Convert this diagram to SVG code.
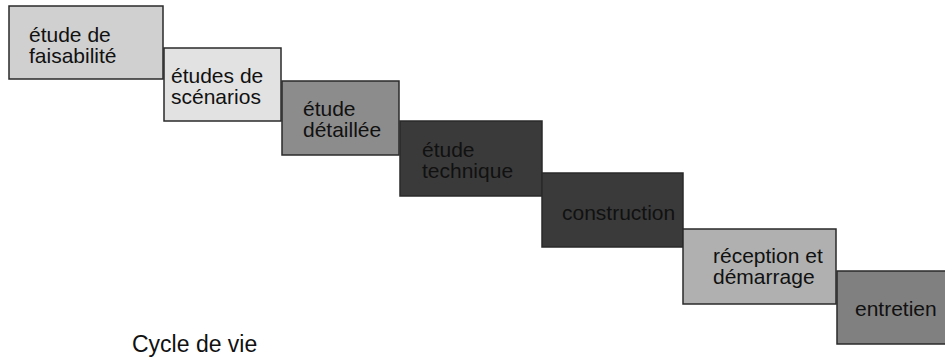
<svg xmlns="http://www.w3.org/2000/svg" width="945" height="362" viewBox="0 0 945 362">
<style>
rect{stroke:#2a2a2a;stroke-width:1.5}
text{font-family:"Liberation Sans",Arial,sans-serif;font-size:21px;fill:#111}
.t{font-size:23px}
</style>
<rect width="945" height="362" fill="#fff" style="stroke:none"/>
<g id="n1"><rect x="9" y="6" width="154" height="73" fill="#d0d0d0"/><text x="29" y="42">étude de</text><text x="29" y="63">faisabilité</text></g>
<g id="n2"><rect x="164" y="48" width="117" height="73" fill="#e2e2e2"/><text x="171" y="83">études de</text><text x="171" y="104">scénarios</text></g>
<g id="n3"><rect x="282" y="81" width="117" height="74" fill="#8c8c8c"/><text x="303" y="116">étude</text><text x="303" y="137">détaillée</text></g>
<g id="n4"><rect x="400" y="121" width="142" height="75" fill="#3a3a3a"/><text x="422" y="157">étude</text><text x="422" y="178">technique</text></g>
<g id="n5"><rect x="542" y="173" width="141" height="74" fill="#3a3a3a"/><text x="562" y="220">construction</text></g>
<g id="n6"><rect x="683" y="229" width="153" height="75" fill="#b0b0b0"/><text x="713" y="263">réception et</text><text x="713" y="284">démarrage</text></g>
<g id="n7"><rect x="837" y="271" width="115" height="73" fill="#808080"/><text x="855" y="316">entretien</text></g>
<g id="connectors"></g>
<text class="t" x="132" y="352">Cycle de vie</text>
</svg>
